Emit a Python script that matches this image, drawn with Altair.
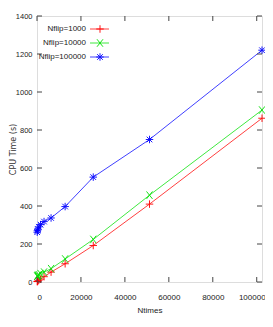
import altair as alt
import pandas as pd

ntimes = [100, 200, 400, 800, 1600, 3200, 6400, 12800, 25600, 51200, 102400]
red = [2, 3, 5, 9, 15, 28, 52, 96, 192, 410, 862]
green = [30, 32, 35, 38, 44, 52, 70, 121, 224, 457, 905]
blue = [262, 270, 278, 290, 302, 318, 337, 397, 552, 750, 1220]
series_names = ["Nflip=1000", "Nflip=10000", "Nflip=100000"]
series_colors = ["#ff0000", "#00e000", "#0000ff"]
xticks = [0, 20000, 40000, 60000, 80000, 100000]
yticks = [0, 200, 400, 600, 800, 1000, 1200, 1400]

PLUS = "M-1,0L1,0M0,-1L0,1"
XSH = "M-0.8,-1L0.8,1M-0.8,1L0.8,-1"
STAR = "M-1,0L1,0M0,-1L0,1M-0.75,-0.75L0.75,0.75M-0.75,0.75L0.75,-0.75"
shapes = [PLUS, XSH, STAR]

rows = []
for name, vals in zip(series_names, [red, green, blue]):
    for n, v in zip(ntimes, vals):
        rows.append({"series": name, "ntimes": n, "cpu": v})
df = pd.DataFrame(rows)

W, H = 225, 266
NARROW = "Liberation Sans"
FS = 8

xscale = alt.Scale(domain=[0, 102400], nice=False, zero=False)
yscale = alt.Scale(domain=[0, 1400], nice=False)
cscale = alt.Scale(domain=series_names, range=series_colors)
sscale = alt.Scale(domain=series_names, range=shapes)

xax = alt.Axis(values=xticks, format="d", ticks=False, domain=False, grid=False,
               labelFont=NARROW, labelFontSize=FS, labelColor="#222", labelPadding=11,
               labelOverlap=False,
               labelOffset={"condition": {"test": "datum.value == 100000", "value": -5}, "value": 0},
               title="Ntimes", titleFont=NARROW, titleFontSize=FS, titleFontWeight="normal",
               titleColor="#222", titlePadding=5)
yax = alt.Axis(values=yticks, format="d", ticks=False, domain=False, grid=False,
               labelFont=NARROW, labelFontSize=7.5, labelColor="#222", labelPadding=5,
               labelOverlap=False,
               title="CPU Time (s)", titleFont="DejaVu Sans", titleFontSize=8,
               titleFontWeight="normal", titleColor="#333",
               titleX=-24, titleY=H / 2, titleAngle=270, titleAlign="center",
               titleBaseline="middle")

X = lambda f: alt.X(f, scale=xscale, axis=xax, title="Ntimes")
Y = lambda f: alt.Y(f, scale=yscale, axis=yax, title="CPU Time (s)")

base = alt.Chart(df)
lines = base.mark_line(strokeWidth=1, opacity=0.75).encode(
    x=X("ntimes:Q"), y=Y("cpu:Q"),
    color=alt.Color("series:N", scale=cscale, legend=None),
    detail="series:N",
)
points = base.mark_point(filled=False, strokeWidth=1, size=56, opacity=0.9).encode(
    x=X("ntimes:Q"), y=Y("cpu:Q"),
    color=alt.Color("series:N", scale=cscale, legend=None),
    shape=alt.Shape("series:N", scale=sscale, legend=None),
)

xt = pd.DataFrame({"v": xticks})
yt = pd.DataFrame({"v": yticks})
tick_col = "#444"
xt_bot = alt.Chart(xt).mark_rule(color=tick_col, strokeWidth=1).encode(
    x=X("v:Q"), y=alt.value(H), y2=alt.value(H - 5))
xt_top = alt.Chart(xt).mark_rule(color=tick_col, strokeWidth=1).encode(
    x=X("v:Q"), y=alt.value(0), y2=alt.value(5))
yt_left = alt.Chart(yt).mark_rule(color=tick_col, strokeWidth=1).encode(
    y=Y("v:Q"), x=alt.value(0), x2=alt.value(5))
yt_right = alt.Chart(yt).mark_rule(color=tick_col, strokeWidth=1).encode(
    y=Y("v:Q"), x=alt.value(W), x2=alt.value(W - 5))

legend_layers = []
for i, (name, col, shp) in enumerate(zip(series_names, series_colors, shapes)):
    ly = 13 + 14 * i
    ldf = pd.DataFrame({"label": [name]})
    legend_layers.append(alt.Chart(ldf).mark_text(
        align="right", baseline="middle", font=NARROW, fontSize=FS, color="#222").encode(
        text="label:N", x=alt.value(49), y=alt.value(ly)))
    legend_layers.append(alt.Chart(ldf).mark_rule(color=col, strokeWidth=1, opacity=0.75).encode(
        x=alt.value(53), x2=alt.value(72), y=alt.value(ly)))
    legend_layers.append(alt.Chart(ldf).mark_point(
        shape=shp, color=col, filled=False, strokeWidth=1, size=56, opacity=0.9).encode(
        x=alt.value(63), y=alt.value(ly)))

chart = alt.layer(lines, points, xt_bot, xt_top, yt_left, yt_right, *legend_layers).properties(
    width=W, height=H,
    autosize=alt.AutoSizeParams(type="none"),
    padding={"left": 29, "top": 8, "right": 3, "bottom": 32},
).configure_view(stroke="#444", strokeWidth=1).configure(background="white")

chart.save("out.html", embed_options={"renderer": "svg", "actions": False})
